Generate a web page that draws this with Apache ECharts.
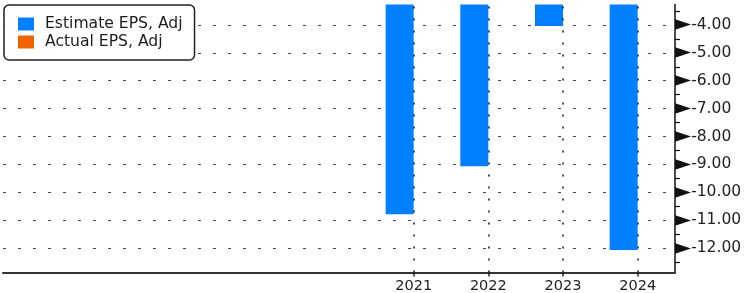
<!DOCTYPE html>
<html>
<head>
<meta charset="utf-8">
<script src="https://cdn.jsdelivr.net/npm/echarts@6/dist/echarts.min.js"></script>
<style>
html,body{margin:0;padding:0;background:#fff;}
#chart{width:744px;height:293px;}
</style>
</head>
<body>
<div id="chart"></div>
<script>
// ---- data ----
const years = ['2016', '2017', '2018', '2019', '2020', '2021', '2022', '2023', '2024'];
const estimateEPS = [null, null, null, null, null, -10.78, -9.06, -4.04, -12.06];
const actualEPS = [null, null, null, null, null, null, null, null, null];
const seriesNames = ['Estimate EPS, Adj', 'Actual EPS, Adj'];
const yMin = -12.87;
const yMax = -3.27;
const firstLabeledIndex = 5;

const FONT = 'DejaVu Sans';
const chart = echarts.init(document.getElementById('chart'), null, { renderer: 'canvas' });

const gridLineYears = years.filter((y, i) => i >= firstLabeledIndex);

chart.setOption({
  animation: false,
  backgroundColor: '#fff',
  grid: { left: 3, right: 69, top: 4.5, bottom: 20.5, containLabel: false, outerBoundsMode: 'none' },
  legend: {
    orient: 'vertical',
    left: 4,
    top: 5,
    backgroundColor: '#fff',
    borderColor: '#222',
    borderWidth: 1.5,
    borderRadius: 5,
    padding: [11, 12, 10, 14],
    itemGap: 2,
    itemWidth: 16,
    itemHeight: 13,
    icon: 'rect',
    selectedMode: false,
    textStyle: { fontFamily: FONT, fontSize: 15.6, color: '#1c1c1c', lineHeight: 14, padding: [0, 0, 0, 6] },
    data: seriesNames
  },
  xAxis: {
    type: 'category',
    data: years,
    boundaryGap: true,
    axisLine: { show: true, lineStyle: { color: '#333', width: 2 } },
    axisTick: { show: true, alignWithLabel: true, length: 4, lineStyle: { color: '#222', width: 1.5 },
      interval: (i) => i >= firstLabeledIndex },
    axisLabel: { interval: (i) => i >= firstLabeledIndex, margin: 6, fontFamily: FONT, fontSize: 14.5, color: '#222' },
    splitLine: { show: false }
  },
  yAxis: {
    type: 'value',
    position: 'right',
    min: yMin,
    max: yMax,
    minInterval: 1,
    maxInterval: 1,
    splitNumber: 9,
    axisLine: { show: true, lineStyle: { color: '#111', width: 1.5 } },
    axisTick: { show: false },
    minorTick: { show: true, splitNumber: 2, length: 5, lineStyle: { color: '#111', width: 1.2 } },
    minorSplitLine: { show: false },
    splitLine: { show: true, showMinLine: false, showMaxLine: false,
      lineStyle: { color: '#444', width: 1.2, type: [3, 12] } },
    axisLabel: {
      showMinLabel: false, showMaxLabel: false,
      margin: 0,
      formatter: (v) => '{t|►}{v|' + v.toFixed(2) + '}',
      rich: {
        t: { fontFamily: FONT, fontSize: 21, color: '#111', verticalAlign: 'middle' },
        v: { fontFamily: FONT, fontSize: 15.5, color: '#222', verticalAlign: 'middle' }
      }
    }
  },
  series: [
    {
      name: seriesNames[0],
      type: 'bar',
      data: estimateEPS,
      barWidth: 28,
      barGap: '0%',
      itemStyle: { color: '#0080FF' },
      z: 2
    },
    {
      name: seriesNames[1],
      type: 'bar',
      data: actualEPS,
      barWidth: 28,
      barGap: '0%',
      itemStyle: { color: '#F06400' },
      z: 2
    },
    {
      name: 'gridlines',
      type: 'line',
      data: [],
      silent: true,
      z: 5,
      markLine: {
        silent: true,
        symbol: 'none',
        label: { show: false },
        lineStyle: { color: '#222', width: 1.6, type: [2, 10] },
        data: gridLineYears.map(y => ({ xAxis: y }))
      }
    }
  ]
});
</script>
</body>
</html>
